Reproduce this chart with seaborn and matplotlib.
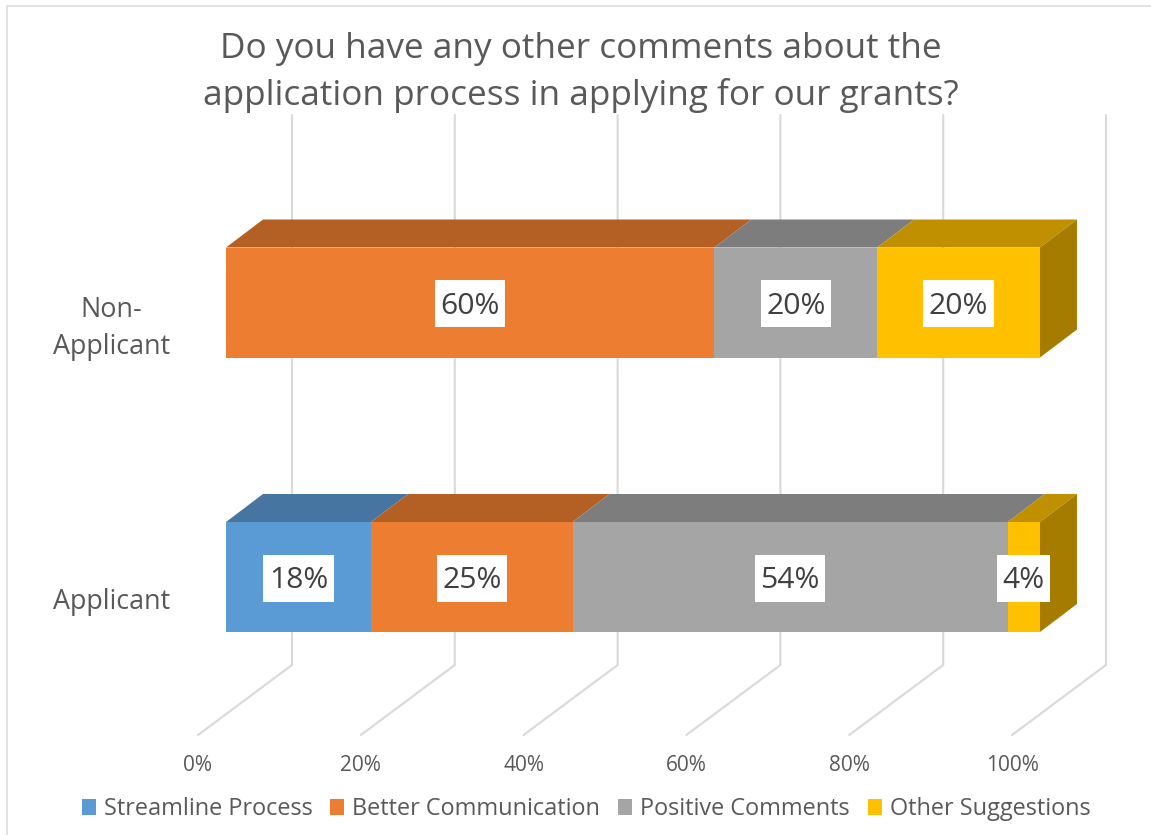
import matplotlib
matplotlib.use("Agg")
import matplotlib.pyplot as plt
from matplotlib.patches import Patch, Polygon, Rectangle
import pandas as pd
import seaborn as sns

groups = ["Non-Applicant", "Applicant"]
group_labels = ["Non-\nApplicant", "Applicant"]
series = ["Streamline Process", "Better Communication", "Positive Comments", "Other Suggestions"]
streamline = [0, 18]
communication = [60, 25]
positive = [20, 54]
other = [20, 4]
tick_values = [0, 20, 40, 60, 80, 100]

front_colors = ["#5B9BD5", "#ED7D31", "#A5A5A5", "#FFC000"]
top_colors = ["#4675A1", "#B45F24", "#7D7D7D", "#C09000"]
side_colors = ["#3A6186", "#9A511F", "#6A6A6A", "#A67C00"]
text_color = "#595959"
grid_color = "#D9D9D9"

W, H = 1151, 835
sns.set_theme(style="white")
plt.rcParams["font.family"] = ["Open Sans", "DejaVu Sans"]

fig = plt.figure(figsize=(W / 100, H / 100), dpi=100, facecolor="white")
ax = fig.add_axes([0, 0, 1, 1])

# Pixel scale of the plot: 0% front edge, 100% front edge, and the row centres.
PX_ZERO, PX_PER_PCT = 226.0, 8.14
ROW0_Y, ROW_STEP = 302.5, 274.5
ax.set_xlim(-PX_ZERO / PX_PER_PCT, (W - PX_ZERO) / PX_PER_PCT)


def ypx(py):
    return (py - ROW0_Y) / ROW_STEP


def xpx(px):
    return (px - PX_ZERO) / PX_PER_PCT


BAR_HEIGHT = 110 / ROW_STEP
DEPTH_X = 37 / PX_PER_PCT
DEPTH_Y = 28 / ROW_STEP

# Perspective wall and floor gridlines, running behind the bars.
wall_left = xpx(292)
floor_left = xpx(198)
wall_top, wall_bottom, floor_front = ypx(115), ypx(665), ypx(735)
for t in tick_values:
    ax.plot([wall_left + t, wall_left + t, floor_left + t],
            [wall_top, wall_bottom, floor_front],
            color=grid_color, lw=1.5, solid_joinstyle="miter", zorder=1)
    ax.text(floor_left + t, ypx(765.5), f"{t}%", ha="center", va="center",
            fontsize=15, color=text_color)

# 100% stacked rows: raw percentages are rescaled so each row fills the axis.
raw = pd.DataFrame([streamline, communication, positive, other], index=series, columns=groups)
share = raw / raw.sum(axis=0) * 100
left = share.cumsum(axis=0).shift(1).fillna(0)

for s, name in enumerate(series):
    frame = pd.DataFrame({"group": groups, "share": share.loc[name, groups].values})
    sns.barplot(data=frame, y="group", x="share", order=groups, orient="h",
                left=left.loc[name, groups].values, width=BAR_HEIGHT,
                color=front_colors[s], saturation=1, errorbar=None,
                linewidth=0, ax=ax, zorder=4)

ax.set_ylim(ypx(H), ypx(0))
renderer = fig.canvas.get_renderer()

# Extruded top and end faces of each row.
for r, group in enumerate(groups):
    y_top = r - BAR_HEIGHT / 2
    y_bot = r + BAR_HEIGHT / 2
    last = None
    for s, name in enumerate(series):
        w = share.loc[name, group]
        if w <= 0:
            continue
        x0 = left.loc[name, group]
        x1 = x0 + w
        ax.add_patch(Polygon([(x0, y_top), (x1, y_top),
                              (x1 + DEPTH_X, y_top - DEPTH_Y), (x0 + DEPTH_X, y_top - DEPTH_Y)],
                             closed=True, fc=top_colors[s], ec="none", zorder=3))
        last = (s, x1)
    s, x1 = last
    ax.add_patch(Polygon([(x1, y_top), (x1 + DEPTH_X, y_top - DEPTH_Y),
                          (x1 + DEPTH_X, y_bot - DEPTH_Y), (x1, y_bot)],
                         closed=True, fc=side_colors[s], ec="none", zorder=3))

    # Row label, one baseline per line, with the last line fixed per row.
    lines = group_labels[r].split("\n")
    last_baseline = 354 if r == 0 else 609
    for i, line in enumerate(lines):
        ax.text(xpx(111.5), ypx(last_baseline - 37 * (len(lines) - 1 - i)), line,
                ha="center", va="baseline", fontsize=19.4, color=text_color)

    # Value labels on white boxes.
    for s, name in enumerate(series):
        if raw.loc[name, group] <= 0:
            continue
        cx = left.loc[name, group] + share.loc[name, group] / 2
        label = ax.text(cx, r + 11 / ROW_STEP, f"{raw.loc[name, group]}%",
                        ha="center", va="baseline", fontsize=21.7, color="#404040", zorder=7)
        box_w = (label.get_window_extent(renderer).width + 11) / PX_PER_PCT
        box_h = 47 / ROW_STEP
        ax.add_patch(Rectangle((cx - box_w / 2, r - box_h / 2 + 1 / ROW_STEP), box_w, box_h,
                               fc="white", ec="none", zorder=6))

ax.set_axis_off()

# Chart frame along the top and left edges.
ax.plot([xpx(W), xpx(6.5), xpx(6.5)], [ypx(5.5), ypx(5.5), ypx(H)],
        color=grid_color, lw=1.1, solid_joinstyle="miter", zorder=1)

ax.text(xpx(581), ypx(72.5), "Do you have any other comments about the\napplication process in applying for our grants?",
        ha="center", va="center", multialignment="center", fontsize=25.3, color=text_color, linespacing=1.44)

handles = [Patch(fc=c, ec="none") for c in front_colors]
fig.legend(handles, series, loc="center", bbox_to_anchor=(586 / W, 1 - 809 / H), ncol=4,
           frameon=False, fontsize=16.9, labelcolor=text_color, handlelength=0.6,
           handleheight=0.64, handletextpad=0.34, columnspacing=0.76)

fig.savefig("out.png", dpi=100, facecolor="white")
